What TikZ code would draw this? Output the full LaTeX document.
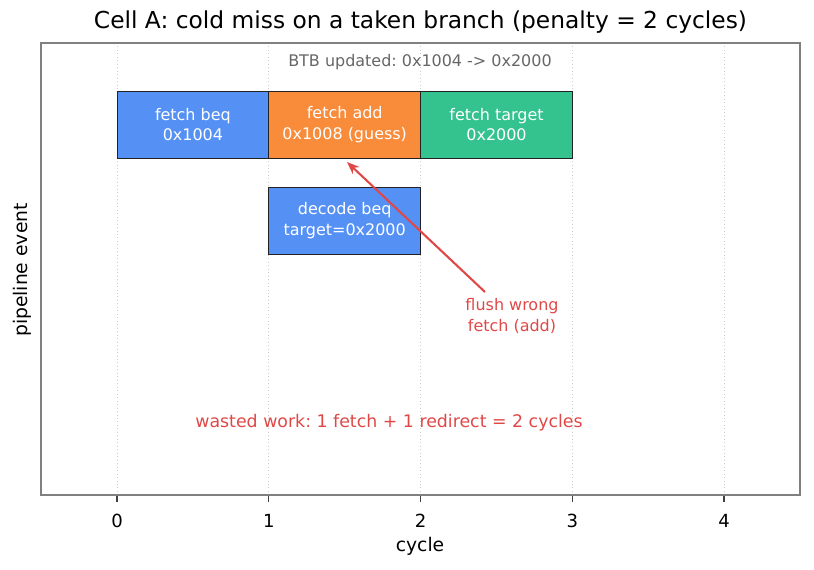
\documentclass[tikz,border=0pt]{standalone}
\usepackage{fontspec}
\setmainfont{DejaVu Sans}
\usetikzlibrary{arrows.meta,positioning}
\frenchspacing

\definecolor{fetchblue}{HTML}{5591F5}
\definecolor{guessorange}{HTML}{F98C3B}
\definecolor{targetgreen}{HTML}{34C28F}
\definecolor{flushred}{HTML}{E04848}
\definecolor{edgegray}{HTML}{222222}

\tikzset{
    stage/.style={draw=edgegray, line width=0.6pt, text=white, align=center,
        minimum width=109.3pt, minimum height=48.24pt, inner sep=0pt, outer sep=0pt,
        font=\fontsize{11.5}{15}\selectfont},
    note/.style={align=center, font=\fontsize{11.5}{15}\selectfont},
    gridline/.style={gray!40, dotted, line width=0.5pt},
    tickmark/.style={black!75, line width=0.8pt},
}

\begin{document}
\begin{tikzpicture}[x=0.72pt,y=-0.72pt]
    \useasboundingbox (0,0) rectangle (814,569);

    % grid, ticks and tick labels
    \foreach \c in {0,...,4} {
        \draw[gridline] ({117+151.75*\c},43) -- ({117+151.75*\c},495);
        \draw[tickmark] ({117+151.75*\c},495) -- ({117+151.75*\c},502);
        \node[font=\fontsize{13}{15}\selectfont] (tick\c) at ({117+151.75*\c},521) {\c};
    }

    % pipeline stages
    \node[stage, fill=fetchblue] (fbeq) at (192.9,124.5) {fetch beq\\0x1004};
    \node[stage, fill=guessorange, right=0pt of fbeq] (fadd) {fetch add\\0x1008 (guess)};
    \node[stage, fill=targetgreen, right=0pt of fadd] (ftgt) {fetch target\\0x2000};
    \node[stage, fill=fetchblue, below=20.9pt of fadd] (dbeq) {decode beq\\target=0x2000};

    % notes
    \node[note, text=black!60] (btb) at (420,62) {BTB updated: 0x1004 -> 0x2000};
    \node[note, text=flushred] (flush) at (512,316) {flush wrong\\fetch (add)};
    \node[note, text=flushred, font=\fontsize{12.5}{15}\selectfont] (wasted) at (389,423) {wasted work: 1 fetch + 1 redirect = 2 cycles};

    \coordinate (tail) at (485,292);
    \coordinate (head) at (347,162);
    \draw[flushred, line width=1.5pt, -{Stealth[length=9pt,width=7pt]}] (tail) -- (head);

    % frame and labels
    \draw[gray, line width=1.1pt] (41,43) rectangle (800,495);
    \node[font=\fontsize{16.8}{20}\selectfont] (title) at (420.5,22) {Cell A: cold miss on a taken branch (penalty = 2 cycles)};
    \node[font=\fontsize{13.5}{16}\selectfont] (xlabel) at (420,546) {cycle};
    \node[font=\fontsize{13.5}{16}\selectfont, rotate=90] (ylabel) at (22,270) {pipeline event};
\end{tikzpicture}
\end{document}
